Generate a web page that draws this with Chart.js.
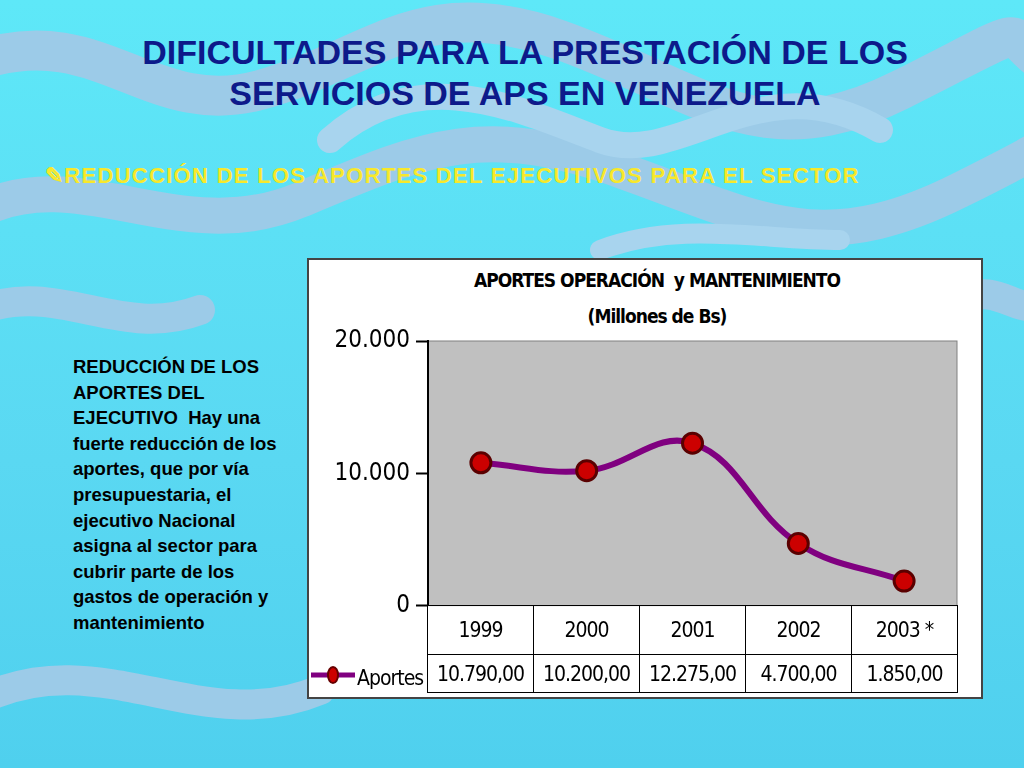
<!DOCTYPE html>
<html><head><meta charset="utf-8">
<script src="https://cdn.jsdelivr.net/npm/chart.js@4"></script>
<style>
body{margin:0;width:1024px;height:768px;overflow:hidden;background:linear-gradient(#5ee8f8,#5ad8f2 60%,#4fd0ee);font-family:"Liberation Sans",Arial,sans-serif;position:relative}
svg.bg{position:absolute;left:0;top:0}
.t{position:absolute;left:0;width:1050px;text-align:center;color:#0d1a8a;font-weight:bold;font-size:34px;line-height:41px;top:32px}
.s{position:absolute;left:45px;top:163px;color:#f8e82a;font-weight:bold;font-size:22px;letter-spacing:1.3px;white-space:nowrap}
.p{position:absolute;left:73px;top:354px;width:215px;font-weight:bold;font-size:18.5px;line-height:25.6px;color:#000}
.box{position:absolute;left:307px;top:258px;width:672px;height:437px;background:#fff;border:2px solid #444}
.ct{position:absolute;left:307px;width:700px;text-align:center;font-family:"DejaVu Sans Condensed","Liberation Sans",sans-serif;font-weight:bold;font-size:19px;letter-spacing:-1px}
canvas{position:absolute;left:307px;top:258px}
table{position:absolute;left:309px;top:605px;border-collapse:collapse;font-family:"DejaVu Sans Condensed","Liberation Sans",sans-serif;font-size:21px;letter-spacing:-1px}
td{border:1px solid #000;text-align:center;padding:0}
</style></head><body>
<svg class="bg" width="1024" height="768">
<g fill="none" stroke-linecap="round">
<path d="M-20 60 C100 20 150 120 260 90 S420 -10 560 40 S760 160 900 90 S1000 30 1040 60" stroke="#9ccbe8" stroke-width="40"/>
<path d="M-20 210 C80 160 180 250 300 200 S480 120 620 170 S820 260 960 190 S1020 150 1040 160" stroke="#9ccbe8" stroke-width="36"/>
<path d="M330 140 C420 60 520 110 600 140 S760 60 880 130" stroke="#a8d4ee" stroke-width="26"/>
<path d="M-20 310 C60 280 120 340 200 310" stroke="#9ccbe8" stroke-width="30"/>
<path d="M-20 700 C100 640 200 740 320 690" stroke="#9ccbe8" stroke-width="30"/>
<path d="M960 300 C1000 280 1020 320 1040 300" stroke="#9ccbe8" stroke-width="30"/>
<path d="M600 250 C680 220 760 240 840 240" stroke="#a8d4ee" stroke-width="20"/>
</g></svg>
<div class="t">DIFICULTADES PARA LA PRESTACIÓN DE LOS<br>SERVICIOS DE APS EN VENEZUELA</div>
<div class="s">✎REDUCCIÓN DE LOS APORTES DEL EJECUTIVOS PARA EL SECTOR</div>
<div class="p">REDUCCIÓN DE LOS APORTES DEL EJECUTIVO&nbsp; Hay una fuerte reducción de los aportes, que por vía presupuestaria, el ejecutivo Nacional asigna al sector para cubrir parte de los gastos de operación y mantenimiento</div>
<div class="box"></div>
<div class="ct" style="top:269px">APORTES OPERACIÓN&nbsp; y MANTENIMIENTO</div>
<div class="ct" style="top:305px">(Millones de Bs)</div>
<canvas id="c" width="674" height="368"></canvas>
<table id="tb"></table>
<script>
const categories=["1999","2000","2001","2002","2003 *"];
const seriesName="Aportes";
const aportes=[10790,10200,12275,4700,1850];
const valueLabels=["10.790,00","10.200,00","12.275,00","4.700,00","1.850,00"];
const yTicks=[0,10000,20000];
const fmt=v=>v.toLocaleString('de-DE');
const tb=document.getElementById('tb');
let r1='<tr><td style="width:118px;border-top:none;border-left:none;border-bottom:none"></td>'+categories.map(c=>'<td style="width:105px;height:48px">'+c+'</td>').join('')+'</tr>';
let r2='<tr><td style="height:38px;text-align:left;border:none;white-space:nowrap"><svg width="48" height="20" style="vertical-align:middle"><line x1="2" y1="10" x2="46" y2="10" stroke="#800080" stroke-width="5"/><ellipse cx="24" cy="10" rx="5" ry="8" fill="#c00" stroke="#600" stroke-width="2"/></svg><span style="position:relative;top:4px">'+seriesName+'</span></td>'+valueLabels.map(v=>'<td>'+v+'</td>').join('')+'</tr>';
tb.innerHTML=r1+r2;
const bgPlug={id:'bg',beforeDraw(ch){const a=ch.chartArea,x=ch.ctx;x.save();x.fillStyle='#c0c0c0';x.fillRect(a.left,a.top,a.right-a.left,a.bottom-a.top);x.strokeStyle='#808080';x.strokeRect(a.left,a.top,a.right-a.left,a.bottom-a.top);x.restore();}};
new Chart(document.getElementById('c'),{type:'line',
data:{labels:categories,datasets:[{data:aportes,borderColor:'#800080',borderWidth:6,tension:0.4,pointRadius:10,pointStyle:'circle',pointBackgroundColor:'#cc0000',pointBorderColor:'#5a0000',pointBorderWidth:3}]},
options:{responsive:false,animation:false,clip:false,layout:{padding:{top:83,right:24,bottom:0,left:0}},
plugins:{legend:{display:false},tooltip:{enabled:false}},
scales:{x:{display:false,offset:true},
y:{min:0,max:20000,afterFit:s=>{s.width=121},afterBuildTicks:s=>{s.ticks=yTicks.map(v=>({value:v}))},
grid:{drawOnChartArea:false,color:'#000',tickLength:12,tickWidth:2},border:{color:'#000',width:2},
ticks:{color:'#000',padding:6,font:{family:'"DejaVu Sans Condensed","Liberation Sans"',size:24},callback:v=>fmt(v)}}}},
plugins:[bgPlug]});
</script></body></html>
